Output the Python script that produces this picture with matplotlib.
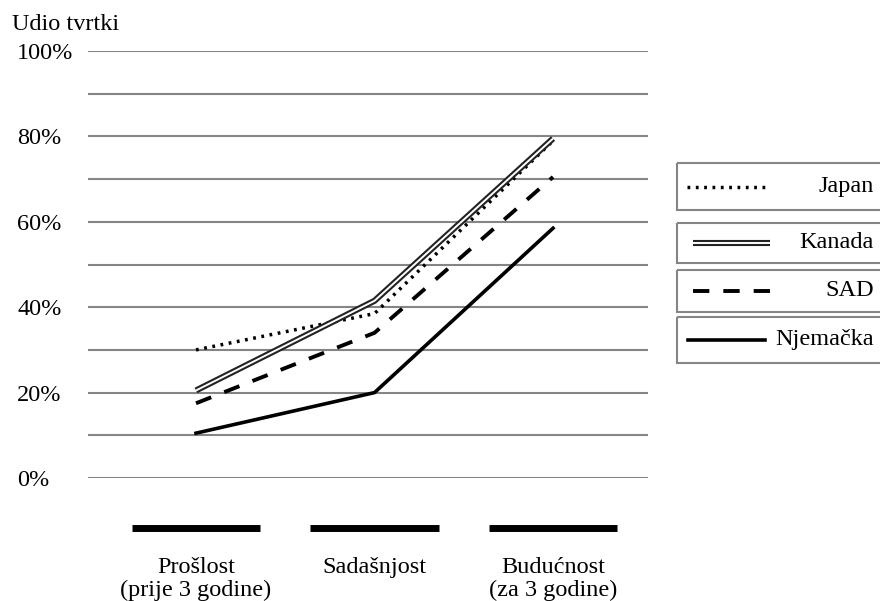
import matplotlib.pyplot as plt
from matplotlib.patches import Rectangle

plt.rcParams['font.family'] = ['Liberation Serif', 'DejaVu Serif']

# categories and values (share of firms, %)
periods = ['Prošlost\n(prije 3 godine)', 'Sadašnjost', 'Budućnost\n(za 3 godine)']
japan = [30, 38.5, 79]
kanada = [20.5, 41.5, 79.5]
sad = [17.5, 34, 70.5]
njemacka = [10.5, 20, 58.5]
y_ticks = [0, 20, 40, 60, 80, 100]
y_labels = ['0%', '20%', '40%', '60%', '80%', '100%']

FS = 17.5

fig = plt.figure(figsize=(8.8, 6.01), dpi=100)
ax = fig.add_axes([88 / 880, 123 / 601, 560 / 880, 427 / 601])

x = list(range(len(periods)))

# gridlines every 10%
for g in range(0, 101, 10):
    ax.axhline(g, color='#858585', lw=1.5, zorder=1)

# series
ax.plot(x, njemacka, color='black', lw=2.6, zorder=3, clip_on=False)
ax.plot(x, sad, color='black', lw=2.8, ls=(0, (4.2, 3.6)), zorder=3, clip_on=False)
ax.plot(x, japan, color='black', lw=2.5, ls=(0, (0.8, 1.6)), zorder=3, clip_on=False)
ax.plot(x, kanada, color='#222222', lw=4.4, zorder=4, clip_on=False, solid_capstyle='butt')
ax.plot(x, kanada, color='white', lw=1.4, zorder=5, clip_on=False, solid_capstyle='butt')

ax.set_xlim(-0.605, 2.532)
ax.set_ylim(0, 100)

# category bars and labels below the axis
for xi, lab in zip(x, periods):
    ax.plot([xi - 0.36, xi + 0.36], [-11.7, -11.7], color='black', lw=5,
            solid_capstyle='butt', clip_on=False)
    ax.text(xi, -18.4, lab, ha='center', va='top', fontsize=FS, linespacing=1.12)

ax.set_yticks(y_ticks)
ax.set_yticklabels(y_labels, fontsize=FS, ha='left')
ax.tick_params(axis='y', length=0, pad=51)
ax.set_xticks([])
for s in ax.spines.values():
    s.set_visible(False)

fig.text(12 / 880, 1 - 24 / 601, 'Udio tvrtki', fontsize=FS, va='center', ha='left')

# legend drawn in pixel coordinates
leg = fig.add_axes([0, 0, 1, 1])
leg.set_xlim(0, 880)
leg.set_ylim(601, 0)
leg.axis('off')
leg.patch.set_alpha(0)

leg_names = ['Japan', 'Kanada', 'SAD', 'Njemačka']
leg_boxes = [(163, 210), (223, 263), (270, 312), (317, 363)]
leg_x = [(687, 765), (693, 770), (693, 770), (688, 765)]
for name, (y0, y1), (xa, xb) in zip(leg_names, leg_boxes, leg_x):
    leg.add_patch(Rectangle((677, y0), 230, y1 - y0, fill=False,
                            edgecolor='#858585', lw=1.5, clip_on=False))
    yc = (y0 + y1) / 2
    if name == 'Japan':
        leg.plot([xa, xb], [yc, yc], color='black', lw=2.5, ls=(0, (0.8, 1.6)))
    elif name == 'Kanada':
        leg.plot([xa, xb], [yc, yc], color='#222222', lw=4.4, solid_capstyle='butt')
        leg.plot([xa, xb], [yc, yc], color='white', lw=1.4, solid_capstyle='butt')
    elif name == 'SAD':
        leg.plot([xa, xb], [yc, yc], color='black', lw=2.8, ls=(0, (4.2, 3.6)))
    else:
        leg.plot([xa, xb], [yc, yc], color='black', lw=2.6)
    leg.text(874, yc, name, ha='right', va='center', fontsize=FS)

fig.savefig('out.png', dpi=100)
